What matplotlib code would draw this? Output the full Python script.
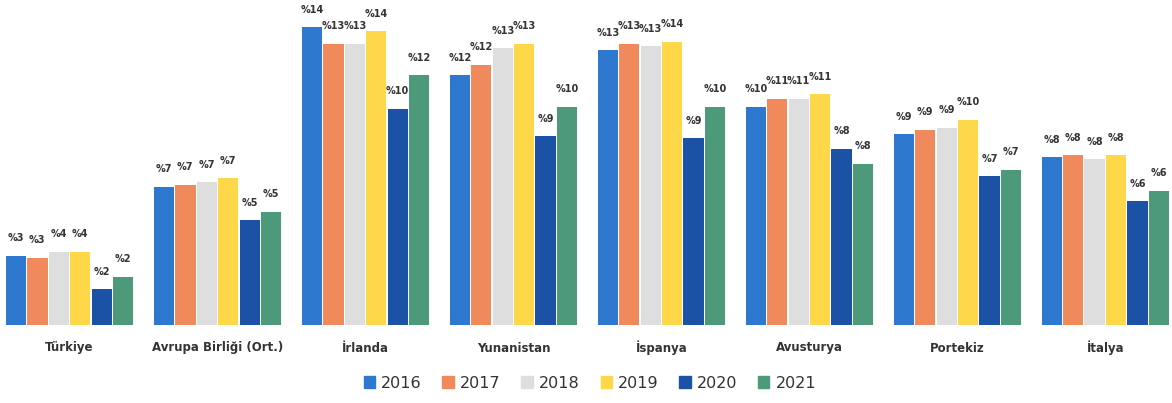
import matplotlib
matplotlib.use("Agg")
import matplotlib.pyplot as plt
import numpy as np

countries = ["Türkiye", "Avrupa Birliği (Ort.)", "İrlanda", "Yunanistan",
             "İspanya", "Avusturya", "Portekiz", "İtalya"]
years = ["2016", "2017", "2018", "2019", "2020", "2021"]

v2016 = [3.3, 6.6, 14.2, 11.9, 13.1, 10.4, 9.1, 8.0]
v2017 = [3.2, 6.7, 13.4, 12.4, 13.4, 10.8, 9.3, 8.1]
v2018 = [3.5, 6.8, 13.4, 13.2, 13.3, 10.8, 9.4, 7.9]
v2019 = [3.5, 7.0, 14.0, 13.4, 13.5, 11.0, 9.8, 8.1]
v2020 = [1.7, 5.0, 10.3, 9.0, 8.9, 8.4, 7.1, 5.9]
v2021 = [2.3, 5.4, 11.9, 10.4, 10.4, 7.7, 7.4, 6.4]
series = [v2016, v2017, v2018, v2019, v2020, v2021]

colors = ["#2F78D0", "#F08A5D", "#DEDEDE", "#FFD84A", "#1B52A6", "#4C9A7A"]

fig = plt.figure(figsize=(11.72, 4.03), dpi=100)
ax = fig.add_axes([0.0, 78 / 403, 1.0, 325 / 403])

x = np.arange(len(countries))
n = len(series)
bw = 0.145
for i, (vals, col, yr) in enumerate(zip(series, colors, years)):
    pos = x + (i - (n - 1) / 2) * bw + 0.02
    bars = ax.bar(pos, vals, width=bw * 0.95, color=col, label=yr, zorder=2)
    for b, v in zip(bars, vals):
        ax.text(b.get_x() + b.get_width() / 2, v + 0.6, "%" + f"{v:.0f}",
                ha="center", va="bottom", fontsize=7.0, fontweight="bold",
                color="#333333")

ax.set_xlim(-0.45, 7.47)
ax.set_ylim(0, 15.5)
ax.axis("off")

for xi, c in zip(x, countries):
    fig.text((xi + 0.47) / 7.92, 1 - 348 / 403, c, ha="center", va="center",
             fontsize=8.5, fontweight="bold", color="#333333")

handles = [plt.Rectangle((0, 0), 1, 1, color=c) for c in colors]
fig.legend(handles, years, loc="center", bbox_to_anchor=(590 / 1172, 1 - 383 / 403),
           ncol=6, frameon=False, fontsize=11.5, handlelength=0.7, handleheight=0.7,
           handletextpad=0.4, columnspacing=1.3, labelcolor="#333333")

fig.savefig("out.png", dpi=100)
